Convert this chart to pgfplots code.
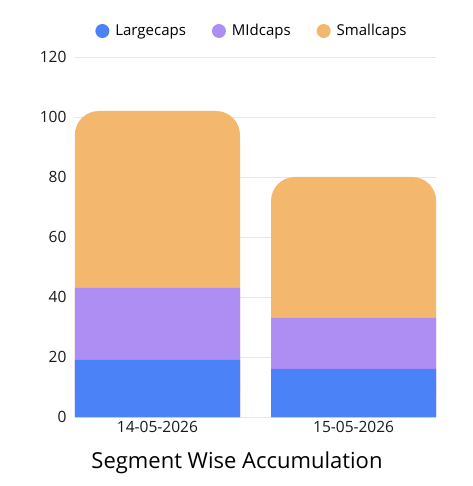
\documentclass[border=0pt]{standalone}
\usepackage{pgfplots}
\pgfplotsset{compat=1.18}
\usepackage{fontspec}
\setmainfont{Open Sans}
\definecolor{cLarge}{HTML}{4C82F7}
\definecolor{cMid}{HTML}{AF8EF4}
\definecolor{cSmall}{HTML}{F3B86D}
\definecolor{cGrid}{HTML}{E6E6E6}
\begin{document}
\begin{tikzpicture}[x=1pt,y=1pt]
\path (-75pt,-69pt) rectangle (397pt,417pt);
\begin{axis}[
  scale only axis,
  width=361pt, height=360pt,
  at={(0pt,0pt)}, anchor=south west,
  xmin=-0.42, xmax=1.42,
  ymin=0, ymax=120,
  ytick={0,20,...,120},
  xtick={0,1},
  xticklabels={14-05-2026,15-05-2026},
  axis x line*=bottom,
  axis y line*=left,
  y axis line style={draw=none},
  x axis line style={cGrid, line width=0.8pt},
  ymajorgrids,
  grid style={cGrid, line width=0.8pt},
  major tick length=0pt,
  tick style={draw=none},
  ticklabel style={font=\fontsize{15.5}{18}\selectfont, text=black!90},
  /pgf/number format/assume math mode=true,
  yticklabel style={xshift=-5pt},
  xticklabel style={yshift=-1pt},
  ybar, bar width=0.842,
  bar shift=0pt,
  legend style={draw=none, fill=none, at={(177pt,386pt)}, anchor=center,
    legend columns=3, font=\fontsize{15}{18}\selectfont,
    /tikz/every odd column/.append style={column sep=4pt},
    /tikz/every even column/.append style={column sep=24pt}},
  legend cell align=left,
  legend image code/.code={\fill[#1, draw=none] (3pt,0pt) circle (7pt);},
  clip=false,
]
\addplot[forget plot, fill=cSmall, draw=none, rounded corners=24pt] coordinates {(0,102) (1,80)};
\addplot[forget plot, fill=cMid, draw=none] coordinates {(0,43) (1,33)};
\addplot[forget plot, fill=cLarge, draw=none] coordinates {(0,19) (1,16)};
\addlegendimage{fill=cLarge, draw=none}
\addlegendentry{Largecaps}
\addlegendimage{fill=cMid, draw=none}
\addlegendentry{MIdcaps}
\addlegendimage{fill=cSmall, draw=none}
\addlegendentry{Smallcaps}
\end{axis}
\node[font=\fontsize{22}{26}\selectfont] at (162pt,-46pt) {Segment Wise Accumulation};
\end{tikzpicture}
\end{document}
